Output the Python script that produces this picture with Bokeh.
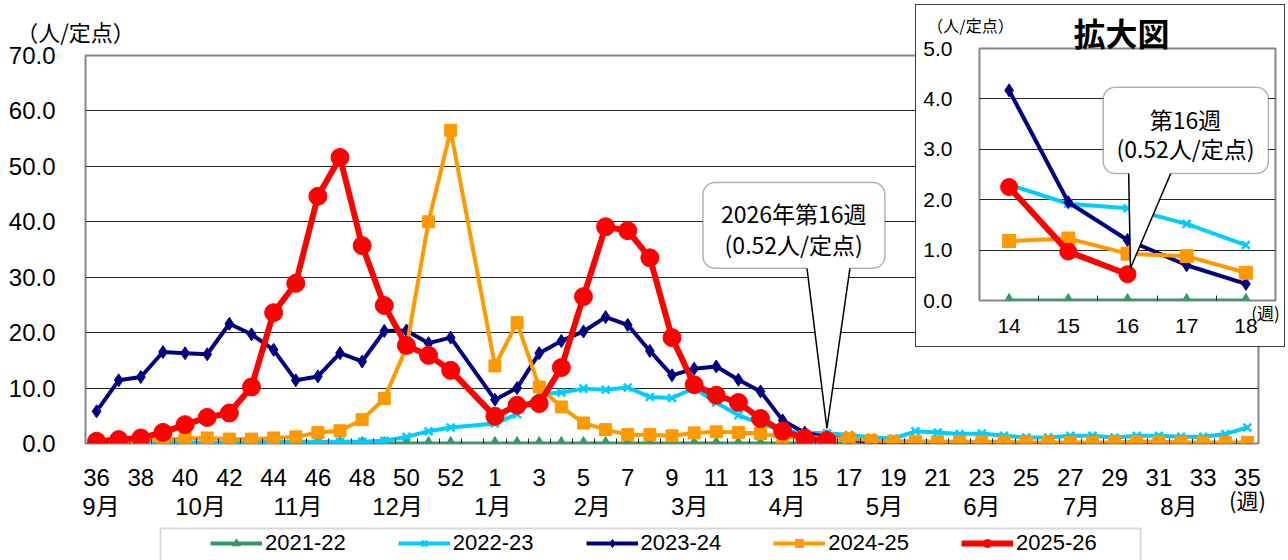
from bokeh.plotting import figure
from bokeh.models import (Range1d, FixedTicker, LinearAxis, Legend, LegendItem, Label,
                          BoxAnnotation, PolyAnnotation, NumeralTickFormatter)
from bokeh.embed import file_html
from bokeh.resources import INLINE

# ---------------- data ----------------
weeks = [36, 37, 38, 39, 40, 41, 42, 43, 44, 45, 46, 47, 48, 49, 50, 51, 52, 53,
         1, 2, 3, 4, 5, 6, 7, 8, 9, 10, 11, 12, 13, 14, 15, 16, 17, 18, 19, 20,
         21, 22, 23, 24, 25, 26, 27, 28, 29, 30, 31, 32, 33, 34, 35]
months = ["9月", "10月", "11月", "12月", "1月", "2月", "3月", "4月", "5月", "6月", "7月", "8月"]
series_names = ["2021-22", "2022-23", "2023-24", "2024-25", "2025-26"]

s2021_22 = [0.0, 0.0, 0.0, 0.0, 0.0, 0.0, 0.0, 0.0, 0.0, 0.0, 0.0, 0.0, 0.0, 0.0, 0.0, 0.0, 0.0, None,
            0.0, 0.0, 0.0, 0.0, 0.0, 0.0, 0.0, 0.0, 0.0, 0.0, 0.0, 0.0, 0.0, 0.0, 0.0, 0.0, 0.0, 0.0,
            0.0, 0.0, 0.0, 0.0, 0.0, 0.0, 0.0, 0.0, 0.0, 0.0, 0.0, 0.0, 0.0, 0.0, 0.0, 0.0, 0.0]
s2022_23 = [0.2, 0.2, 0.2, 0.2, 0.2, 0.2, 0.2, 0.2, 0.3, 0.3, 0.3, 0.3, 0.3, 0.5, 1.2, 2.2, 2.9, None,
            3.6, 5.3, 8.9, 9.2, 9.9, 9.7, 10.1, 8.4, 8.2, 10.0, 7.4, 5.1, 3.6, 2.3, 1.92, 1.83, 1.52, 1.1,
            0.9, 2.2, 2.0, 1.7, 1.8, 1.4, 1.1, 1.1, 1.4, 1.4, 1.1, 1.4, 1.4, 1.2, 1.2, 1.7, 2.9]
s2023_24 = [5.8, 11.4, 12.0, 16.5, 16.3, 16.1, 21.6, 19.7, 16.9, 11.4, 12.1, 16.3, 14.8, 20.3, 20.4, 18.1, 19.1, None,
            7.9, 10.0, 16.3, 18.5, 20.2, 22.8, 21.4, 16.7, 12.3, 13.5, 13.9, 11.5, 9.4, 4.17, 1.95, 1.2, 0.7, 0.33,
            0.2, 0.2, 0.1, 0.1, 0.1, 0.1, 0.1, 0.1, 0.1, 0.1, 0.1, 0.1, 0.1, 0.1, 0.1, 0.1, 0.1]
s2024_25 = [0.3, 0.4, 0.5, 0.7, 0.9, 1.0, 0.8, 0.8, 1.0, 1.2, 2.0, 2.3, 4.3, 8.1, 17.3, 40.0, 56.5, None,
            14.0, 21.8, 10.2, 6.6, 3.7, 2.5, 1.6, 1.6, 1.4, 1.9, 2.1, 2.0, 1.8, 1.18, 1.23, 0.93, 0.88, 0.55,
            0.4, 0.4, 0.3, 0.3, 0.3, 0.3, 0.2, 0.2, 0.2, 0.2, 0.2, 0.3, 0.3, 0.2, 0.2, 0.2, 0.2]
s2025_26 = [0.4, 0.7, 1.0, 2.0, 3.4, 4.7, 5.5, 10.2, 23.6, 28.9, 44.6, 51.6, 35.7, 24.9, 17.7, 15.9, 13.2, None,
            4.9, 6.9, 7.2, 13.7, 26.5, 39.1, 38.4, 33.5, 19.1, 10.6, 8.7, 7.4, 4.5, 2.25, 0.97, 0.52, None, None,
            None, None, None, None, None, None, None, None, None, None, None, None, None, None, None, None, None]
inset_weeks = [14, 15, 16, 17, 18]
current_week = 16

# ---------------- styles ----------------
colors = ["#339966", "#00CCFF", "#000080", "#FF9900", "#FF0000"]
markers = ["triangle", "x", "diamond", "square", "circle"]
main_lw = [4, 4, 4, 4, 6]
main_ms = [12, 11, 13, 12, 18]
ins_lw = [4, 4, 4, 4, 6]
ins_ms = [12, 11, 13, 13, 17]
all_series = [s2021_22, s2022_23, s2023_24, s2024_25, s2025_26]

JP = "Noto Sans CJK JP"
LAT = "Liberation Sans"
MIX = "Liberation Sans, Noto Sans CJK JP"
GRID = "#262626"
FRAME = "#868686"

month_pos = [0.2, 4.7, 9.1, 13.6, 17.9, 22.4, 26.8, 31.2, 35.6, 40.0, 44.5, 48.9]


def draw(fig, xs, ys, color, marker, lw, ms):
    px = [x for x, y in zip(xs, ys) if y is not None]
    py = [y for y in ys if y is not None]
    lr = fig.line(px, py, line_color=color, line_width=lw, line_join="round")
    sr = fig.scatter(px, py, marker=marker, size=ms, fill_color=color, line_color=color,
                     line_width=2.5 if marker == "x" else 1)
    return [lr, sr]


def label(fig, x, y, text, size, font=JP, bold=False):
    fig.add_layout(Label(x=x, y=y, text=text, text_font=font, text_font_size=size,
                         text_font_style="bold" if bold else "normal", text_color="black",
                         text_align="center", text_baseline="middle"))


# ---------------- main figure ----------------
p = figure(width=1280, height=560, x_range=Range1d(-0.5, 52.5), y_range=Range1d(0, 70),
           output_backend="svg", toolbar_location=None,
           min_border_left=85, min_border_right=22, min_border_top=55, min_border_bottom=117)
p.outline_line_color = FRAME
p.outline_line_width = 2
p.xgrid.grid_line_color = None
p.ygrid.grid_line_color = GRID
p.ygrid.grid_line_width = 1

p.yaxis.ticker = FixedTicker(ticks=[0, 10, 20, 30, 40, 50, 60, 70])
p.yaxis.formatter = NumeralTickFormatter(format="0.0")
p.yaxis.major_label_text_font = LAT
p.yaxis.major_label_text_font_size = "24px"
p.yaxis.major_label_text_color = "black"
p.yaxis.major_label_standoff = 30
p.yaxis.major_tick_in = 0
p.yaxis.major_tick_out = 0
p.yaxis.minor_tick_in = 0
p.yaxis.minor_tick_out = 0
p.yaxis.axis_line_color = None

idx = list(range(len(weeks)))
xa = p.xaxis[0]
xa.ticker = FixedTicker(ticks=idx[::2], minor_ticks=[i + 0.5 for i in idx[:-1]])
xa.major_label_overrides = {i: str(weeks[i]) for i in idx[::2]}
xa.major_label_text_font = LAT
xa.major_label_text_font_size = "24px"
xa.major_label_text_color = "black"
xa.major_label_standoff = 25
xa.major_tick_in = 0
xa.major_tick_out = 0
xa.minor_tick_in = 5
xa.minor_tick_out = 0
xa.minor_tick_line_color = GRID
xa.axis_line_color = None

xm = LinearAxis(ticker=FixedTicker(ticks=month_pos),
                major_label_overrides={m: t for m, t in zip(month_pos, months)},
                axis_line_color=None, major_tick_in=0, major_tick_out=0,
                minor_tick_in=0, minor_tick_out=0, major_label_standoff=4,
                major_label_text_font=MIX, major_label_text_font_size="24px",
                major_label_text_color="black")
p.add_layout(xm, "below")

for s, c, m, lw, ms in zip(all_series, colors, markers, main_lw, main_ms):
    draw(p, idx, s, c, m, lw, ms)

# main callout
ci = weeks.index(current_week)
cv = s2025_26[ci]
p.add_layout(BoxAnnotation(left=27.4, right=35.62, top=47.1, bottom=31.6, fill_color="white",
                           fill_alpha=1, line_color="black", line_width=1.5, border_radius=12))
p.add_layout(PolyAnnotation(xs=[32.1, 32.1, ci, 34.04, 34.04], ys=[32.0, 31.6, cv + 2.2, 31.6, 32.0],
                            fill_color="white", fill_alpha=1, line_color=None))
p.line([32.1, ci, 34.04], [31.6, cv + 2.2, 31.6], line_color="black", line_width=1.5, level="overlay")
label(p, 31.5, 41.6, f"2026年第{current_week}週", "23px")
label(p, 31.5, 36.0, f"({cv:.2f}人/定点)", "23px")

# ---------------- inset ----------------
q = figure(width=370, height=343, x_range=Range1d(13.5, 18.5), y_range=Range1d(0, 5),
           output_backend="svg", toolbar_location=None,
           min_border_left=63, min_border_right=11, min_border_top=43, min_border_bottom=48,
           styles={"position": "absolute", "left": "915px", "top": "4px",
                   "border": "1px solid #404040", "z-index": "10", "background": "white"})
q.outline_line_color = FRAME
q.outline_line_width = 2
q.xgrid.grid_line_color = None
q.ygrid.grid_line_color = GRID
q.yaxis.ticker = FixedTicker(ticks=[0, 1, 2, 3, 4, 5])
q.yaxis.formatter = NumeralTickFormatter(format="0.0")
q.yaxis.major_label_text_font = LAT
q.yaxis.major_label_text_font_size = "21px"
q.yaxis.major_label_text_color = "black"
q.yaxis.major_label_standoff = 27
q.yaxis.major_tick_in = 0
q.yaxis.major_tick_out = 0
q.yaxis.minor_tick_in = 0
q.yaxis.minor_tick_out = 0
q.yaxis.axis_line_color = None
q.xaxis.ticker = FixedTicker(ticks=inset_weeks, minor_ticks=[w + 0.5 for w in inset_weeks[:-1]])
q.xaxis.major_label_text_font = LAT
q.xaxis.major_label_text_font_size = "21px"
q.xaxis.major_label_text_color = "black"
q.xaxis.major_label_standoff = 18
q.xaxis.major_tick_in = 0
q.xaxis.major_tick_out = 0
q.xaxis.minor_tick_in = 5
q.xaxis.minor_tick_out = 0
q.xaxis.minor_tick_line_color = GRID
q.xaxis.axis_line_color = None

sel = [weeks.index(w) for w in inset_weeks]
for s, c, m, lw, ms in zip(all_series, colors, markers, ins_lw, ins_ms):
    draw(q, inset_weeks, [s[i] for i in sel], c, m, lw, ms)

q.add_layout(BoxAnnotation(left=15.59, right=18.38, top=4.23, bottom=2.52, fill_color="white",
                           fill_alpha=1, line_color="black", line_width=1.5, border_radius=12))
q.add_layout(PolyAnnotation(xs=[16.02, 16.02, current_week + 0.05, 16.73, 16.73],
                            ys=[2.56, 2.52, cv + 0.12, 2.52, 2.56],
                            fill_color="white", fill_alpha=1, line_color=None))
q.line([16.02, current_week + 0.05, 16.73], [2.52, cv + 0.12, 2.52], line_color="black",
       line_width=1.5, level="overlay")
label(q, 16.98, 3.61, f"第{current_week}週", "23px")
label(q, 16.98, 3.02, f"({cv:.2f}人/定点)", "23px")

# ---------------- page-level texts and legend (outside the plot frames) ----------------
ov = figure(width=1286, height=560, x_range=Range1d(0, 1286), y_range=Range1d(560, 0),
            output_backend="svg", toolbar_location=None, x_axis_location=None, y_axis_location=None,
            min_border=0,
            styles={"position": "absolute", "left": "0px", "top": "0px", "z-index": "20",
                    "pointer-events": "none"})
ov.xgrid.visible = False
ov.ygrid.visible = False
ov.outline_line_color = None
ov.background_fill_color = None
ov.border_fill_color = None

ov.add_layout(BoxAnnotation(left=160, right=1140, top=528, bottom=640, fill_alpha=0,
                            line_color="#7f7f7f", line_width=2))
label(ov, 75, 30, "（人/定点）", "22px")
label(ov, 1247, 498, "(週)", "22px")
label(ov, 1121, 31, "拡大図", "32px", bold=True)
label(ov, 970, 24, "（人/定点）", "16px")
label(ov, 1265, 312, "(週)", "17px")

# legend samples: one off-screen point per series so the legend can draw its glyphs
items = []
for name, c, m, lw, ms in zip(series_names, colors, markers, main_lw, main_ms):
    lr = ov.line([-500, -400], [-500, -500], line_color=c, line_width=lw)
    sr = ov.scatter([-500], [-500], marker=m, size=ms, fill_color=c, line_color=c,
                    line_width=2.5 if m == "x" else 1)
    items.append(LegendItem(label=name, renderers=[lr, sr]))
legend = Legend(items=items, orientation="horizontal", location=(210, 4),
                label_text_font=LAT, label_text_font_size="22px", label_standoff=3,
                label_text_color="black",
                glyph_width=52, glyph_height=20, spacing=52, padding=10, margin=0,
                border_line_color=None, background_fill_alpha=0)
ov.add_layout(legend, "center")

with open("out.html", "w") as f:
    f.write(file_html([p, q, ov], INLINE))
